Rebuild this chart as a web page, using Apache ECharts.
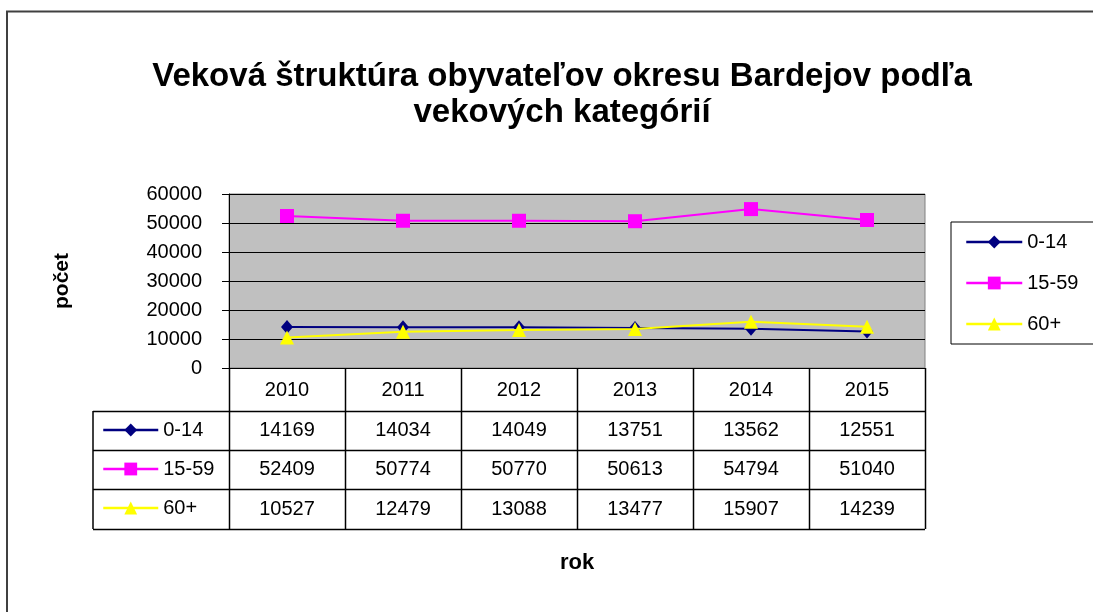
<!DOCTYPE html>
<html>
<head>
<meta charset="utf-8">
<script src="https://cdn.jsdelivr.net/npm/echarts@6/dist/echarts.min.js"></script>
<style>
  html, body { margin: 0; padding: 0; background: #fff; }
  #chart { width: 1093px; height: 612px; }
</style>
</head>
<body>
<div id="chart"></div>
<script>
// data
const years = ['2010', '2011', '2012', '2013', '2014', '2015'];
const age0to14 = [14169, 14034, 14049, 13751, 13562, 12551];
const age15to59 = [52409, 50774, 50770, 50613, 54794, 51040];
const age60plus = [10527, 12479, 13088, 13477, 15907, 14239];
const seriesNames = ['0-14', '15-59', '60+'];
const yMax = 60000;
const yStep = 10000;

const FONT = 'Liberation Sans, Arial, sans-serif';
const rows = [age0to14, age15to59, age60plus];
const colors = ['#000080', '#ff00ff', '#ffff00'];
const symbols = ['diamond', 'rect', 'triangle'];
const symbolSizes = [[12, 14], 14, 14];
const rowH = [43, 39, 39, 40];   // header + 3 data rows
const tableLeft = 93;

let chart = echarts.init(document.getElementById('chart'));

let tableAxis = function (i) {
  // one extra category axis per table row, used only for its labels
  let margin = rowH.slice(0, i + 1).reduce((a, b) => a + b, 0) + rowH[i + 1] / 2;
  return {
    type: 'category', data: years, gridIndex: 0, position: 'bottom',
    axisLine: {show: false}, axisTick: {show: false}, splitLine: {show: false},
    axisLabel: {
      margin: margin, verticalAlign: 'middle', fontFamily: FONT, fontSize: 20, color: '#000',
      formatter: (v, idx) => String(rows[i][idx])
    }
  };
};

let series = seriesNames.map((name, i) => ({
  name: name, type: 'line', data: rows[i],
  symbol: symbols[i], symbolSize: symbolSizes[i],
  lineStyle: {color: colors[i], width: 2},
  itemStyle: {color: colors[i]},
  z: 3 + i
}));

let legendText = {fontFamily: FONT, fontSize: 20, color: '#000', lineHeight: 20};

let option = {
  animation: false,
  backgroundColor: '#fff',
  title: {
    text: 'Veková štruktúra obyvateľov okresu Bardejov podľa\nvekových kategórií',
    left: 557, top: 54, textAlign: 'center',
    textStyle: {fontFamily: FONT, fontSize: 33, fontWeight: 'bold', color: '#000', lineHeight: 36}
  },
  legend: [{
    data: seriesNames, orient: 'vertical', left: 951, top: 222,
    padding: [10, 16, 10, 14], itemGap: 21, itemWidth: 56, itemHeight: 16,
    borderColor: '#000', borderWidth: 1, selectedMode: false,
    lineStyle: {width: 2.5},
    textStyle: legendText
  }, {
    data: seriesNames, orient: 'vertical', left: 102, top: 420,
    padding: 0, itemGap: 19, itemWidth: 55, itemHeight: 16, selectedMode: false,
    lineStyle: {width: 2.5},
    textStyle: legendText
  }],
  grid: {
    left: 229, right: 168, top: 194, bottom: 244,
    show: true, backgroundColor: '#c0c0c0', borderColor: '#808080', borderWidth: 1
  },
  xAxis: [{
    type: 'category', data: years, boundaryGap: true, gridIndex: 0, position: 'bottom',
    name: 'rok', nameLocation: 'middle', nameGap: 184,
    nameTextStyle: {fontFamily: FONT, fontSize: 22, fontWeight: 'bold', color: '#000'},
    axisLine: {lineStyle: {color: '#000', width: 1}},
    axisTick: {show: false},
    axisLabel: {margin: 22, verticalAlign: 'middle', fontFamily: FONT, fontSize: 20, color: '#000'}
  }, tableAxis(0), tableAxis(1), tableAxis(2)],
  yAxis: {
    type: 'value', min: 0, max: yMax, interval: yStep,
    name: 'počet', nameLocation: 'middle', nameGap: 156,
    nameTextStyle: {fontFamily: FONT, fontSize: 21, fontWeight: 'bold', color: '#000'},
    axisLine: {show: true, lineStyle: {color: '#000'}},
    axisTick: {show: true, length: 7, lineStyle: {color: '#000'}},
    axisLabel: {margin: 27, fontFamily: FONT, fontSize: 20, color: '#000', formatter: v => String(v)},
    splitLine: {lineStyle: {color: '#000', width: 1}}
  },
  series: series
};

chart.setOption(option);

// table grid lines, placed from the category axis
let c0 = chart.convertToPixel({xAxisIndex: 0}, years[0]);
let c1 = chart.convertToPixel({xAxisIndex: 0}, years[1]);
let band = c1 - c0;
let x0 = c0 - band / 2;
let x1 = x0 + band * years.length;
let y0 = chart.convertToPixel({yAxisIndex: 0}, 0);
let ys = [y0];
rowH.forEach(h => ys.push(ys[ys.length - 1] + h));
let yEnd = ys[ys.length - 1];

let line = (xa, ya, xb, yb) => ({
  type: 'line', silent: true, z: 10,
  shape: {x1: xa, y1: ya, x2: xb, y2: yb},
  style: {stroke: '#000', lineWidth: 1.5}
});

let graphics = [];
for (let i = 0; i <= years.length; i++) {
  let x = Math.round(x0 + band * i) + 0.5;
  graphics.push(line(x, y0, x, yEnd));
}
graphics.push(line(tableLeft, ys[1], tableLeft, yEnd));
for (let j = 1; j < ys.length; j++) {
  graphics.push(line(tableLeft, Math.round(ys[j]) + 0.5, x1, Math.round(ys[j]) + 0.5));
}
// outer frame of the chart object
graphics.push({
  type: 'rect', silent: true, z: 10,
  shape: {x: 7, y: 11.5, width: 1200, height: 800},
  style: {fill: null, stroke: '#404040', lineWidth: 2}
});

chart.setOption({graphic: graphics});
</script>
</body>
</html>
